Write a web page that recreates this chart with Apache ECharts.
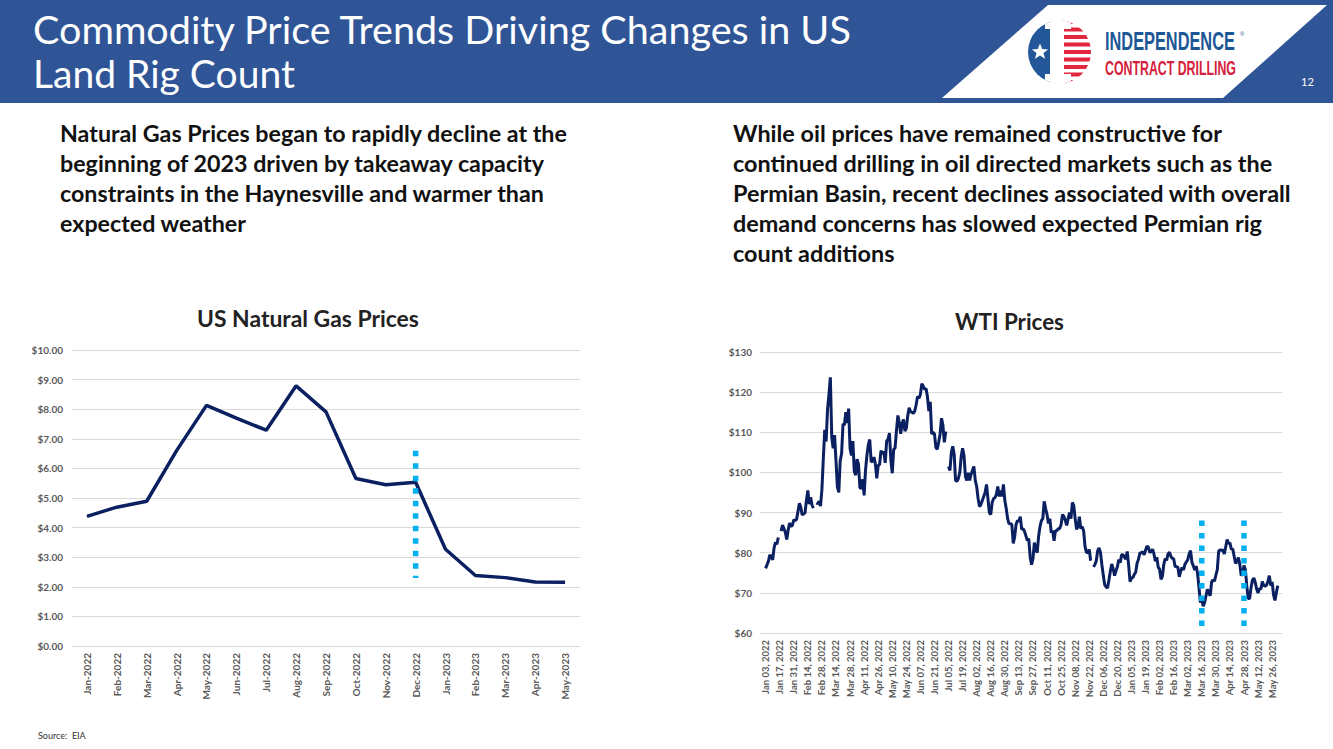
<!DOCTYPE html>
<html>
<head>
<meta charset="utf-8">
<script src="https://cdn.jsdelivr.net/npm/echarts@6/dist/echarts.min.js"></script>
<style>
  html, body { margin:0; padding:0; background:#fff; width:1333px; height:749px; overflow:hidden; }
  #chart { position:absolute; left:0; top:0; width:1333px; height:749px; }
  .txt { position:absolute; font-family: Lato, "Noto Sans", sans-serif; white-space:nowrap; }
  .ln { display:inline-block; white-space:nowrap; }
  #header { position:absolute; left:0; top:0; width:1333px; height:103px; background:#2F5597; }
</style>
</head>
<body>
<div id="chart"></div>
<div id="header">
  <svg width="1333" height="103" xmlns="http://www.w3.org/2000/svg" style="position:absolute;left:0;top:0">
    <defs>
      <clipPath id="cc"><circle cx="1059.5" cy="52" r="31.5"/></clipPath>
    </defs>
    <polygon points="942,98 1048,5 1327,5 1223,98" fill="#ffffff"/>
    <g clip-path="url(#cc)">
      <rect x="1026" y="18" width="26" height="70" fill="#24569a"/>
      <rect x="1052" y="18" width="42" height="70" fill="#ffffff"/>
      <rect x="1062" y="20" width="32" height="4" fill="#e2263f"/>
      <rect x="1062" y="27.5" width="32" height="4" fill="#e2263f"/>
      <rect x="1062" y="35" width="32" height="4" fill="#e2263f"/>
      <rect x="1062" y="42.5" width="32" height="4" fill="#e2263f"/>
      <rect x="1062" y="50" width="32" height="4" fill="#e2263f"/>
      <rect x="1062" y="57.5" width="32" height="4" fill="#e2263f"/>
      <rect x="1062" y="65" width="32" height="4" fill="#e2263f"/>
      <rect x="1062" y="72.5" width="32" height="4" fill="#e2263f"/>
      <rect x="1062" y="80" width="32" height="4" fill="#e2263f"/>
      <rect x="1045" y="18" width="26" height="11" fill="#ffffff"/>
      <rect x="1045" y="74" width="26" height="12" fill="#ffffff"/>
      <rect x="1050" y="18" width="14" height="70" fill="#ffffff"/>
    </g>
    <polygon points="1040,43.5 1042.2,49.1 1048.1,49.4 1043.5,53.1 1045.1,58.8 1040,55.5 1034.9,58.8 1036.5,53.1 1031.9,49.4 1037.8,49.1" fill="#ffffff"/>
    <text id="lg1" x="0" y="0" font-family="'Liberation Sans Narrow', 'Liberation Sans', sans-serif" font-weight="bold" font-size="25" fill="#1d5796">INDEPENDENCE</text>
    <text x="1240" y="36" font-family="'Liberation Sans', sans-serif" font-size="6" fill="#1d5796">®</text>
    <text id="lg2" x="0" y="0" font-family="'Liberation Sans Narrow', 'Liberation Sans', sans-serif" font-weight="bold" font-size="21" fill="#d5213c">CONTRACT DRILLING</text>
    <text x="1301" y="86" font-family="Lato, 'Noto Sans', sans-serif" font-size="11" fill="#ffffff">12</text>
  </svg>
</div>
<div id="title1" class="txt" style="left:33px; top:8px; line-height:42px; color:#fff; font-weight:400;"><span class="ln">Commodity Price Trends Driving Changes in US</span></div>
<div id="title2" class="txt" style="left:33px; top:52px; line-height:42px; color:#fff; font-weight:400;"><span class="ln">Land Rig Count</span></div>
<div id="pleft" class="txt" style="left:60px; top:118px; line-height:30px; color:#111; font-weight:bold;">
  <span class="ln">Natural Gas Prices began to rapidly decline at the</span><br>
  <span class="ln">beginning of 2023 driven by takeaway capacity</span><br>
  <span class="ln">constraints in the Haynesville and warmer than</span><br>
  <span class="ln">expected weather</span>
</div>
<div id="pright" class="txt" style="left:733px; top:118px; line-height:30px; color:#111; font-weight:bold;">
  <span class="ln">While oil prices have remained constructive for</span><br>
  <span class="ln">continued drilling in oil directed markets such as the</span><br>
  <span class="ln">Permian Basin, recent declines associated with overall</span><br>
  <span class="ln">demand concerns has slowed expected Permian rig</span><br>
  <span class="ln">count additions</span>
</div>
<div id="t1" class="txt" style="left:197px; top:305px; line-height:26px; color:#222; font-weight:bold;"><span class="ln">US Natural Gas Prices</span></div>
<div id="t2" class="txt" style="left:955px; top:309px; line-height:26px; color:#222; font-weight:bold;"><span class="ln">WTI Prices</span></div>
<div id="src" class="txt" style="left:38px; top:730px; font-size:9px; line-height:12px; color:#333;">Source:&nbsp;&nbsp;EIA</div>

<script>
// ---------------- DATA ----------------
const gasMonths = ['Jan-2022','Feb-2022','Mar-2022','Apr-2022','May-2022','Jun-2022','Jul-2022','Aug-2022','Sep-2022','Oct-2022','Nov-2022','Dec-2022','Jan-2023','Feb-2023','Mar-2023','Apr-2023','May-2023'];
const gasPrices = [4.38, 4.69, 4.89, 6.60, 8.13, 7.70, 7.29, 8.79, 7.91, 5.66, 5.45, 5.53, 3.27, 2.38, 2.31, 2.16, 2.15];
const gasMarker = { month: 'Dec-2022', top: 6.6, bottom: 2.3 };

const wtiTickLabels = ['Jan 03, 2022','Jan 17, 2022','Jan 31, 2022','Feb 14, 2022','Feb 28, 2022','Mar 14, 2022','Mar 28, 2022','Apr 11, 2022','Apr 26, 2022','May 10, 2022','May 24, 2022','Jun 07, 2022','Jun 21, 2022','Jul 05, 2022','Jul 19, 2022','Aug 02, 2022','Aug 16, 2022','Aug 30, 2022','Sep 13, 2022','Sep 27, 2022','Oct 11, 2022','Oct 25, 2022','Nov 08, 2022','Nov 22, 2022','Dec 06, 2022','Dec 20, 2022','Jan 05, 2023','Jan 19, 2023','Feb 02, 2023','Feb 16, 2023','Mar 02, 2023','Mar 16, 2023','Mar 30, 2023','Apr 14, 2023','Apr 28, 2023','May 12, 2023','May 26, 2023'];
// daily WTI spot price, one value per trading-day slot (null = no price)
const wtiPrices = [
  76.1, 77.0, 77.9, 79.5, 78.9, 78.2, 81.2, 82.6, 82.1, 83.8,
  null, 85.4, 86.9, 86.0, 85.1, 83.3, 85.6, 87.4, 86.6, 86.8,
  88.2, 88.0, 88.3, 90.3, 92.3, 91.3, 89.4, 89.7, 89.9, 93.1,
  95.5, 92.1, 93.8, 91.8, 91.1, null, 92.4, 92.2, 92.8, 91.6,
  95.7, 103.4, 110.6, 107.7, 115.7, 119.4, 123.7, 108.7, 106.0, 109.3,
  103.0, 96.4, 95.0, 102.9, 104.7, 112.1, 111.8, 115.0, 112.3, 115.9,
  106.0, 104.2, 107.8, 100.3, 99.3, 103.3, 102.0, 96.2, 96.0, 98.3,
  94.3, 100.6, 104.3, 106.9, 108.2, 102.6, 102.8, 103.8, 102.1, 98.5,
  101.7, 102.0, 105.4, 104.7, 105.2, 102.4, 107.8, 108.3, 109.8, 103.1,
  99.8, 105.7, 106.1, 110.5, 114.2, 112.4, 109.6, 112.2, 113.2, 110.3,
  111.0, 114.1, 116.1, 115.1, 115.0, 114.7, 115.3, 116.9, 118.9, 118.5,
  119.4, 122.1, 121.5, 120.7, 120.9, 118.9, 115.3, 117.6, 109.6, 110.0,
  109.6, 106.2, 105.8, 107.6, 109.6, 113.5, 111.8, 107.5, 110.2, null,
  101.5, 100.5, 105.0, 106.5, 104.5, 98.0, 97.8, 98.5, 100.0, 104.0,
  106.0, 104.2, 99.0, 98.0, 99.9, 98.0, 99.5, 100.5, 101.5, 98.0,
  96.5, 93.5, 91.5, 92.0, 93.0, 94.0, 95.0, 97.0, 93.5, 90.0,
  89.5, 92.5, 93.5, 93.7, 94.5, 96.5, 94.0, 95.5, 94.0, 97.0,
  93.0, 91.0, 88.5, 87.2, 87.3, 87.0, 82.3, 84.0, 87.0, 88.0,
  87.8, 89.0, 85.8, 86.0, 85.3, 84.2, 83.0, 83.5, 79.0, 77.0,
  78.5, 82.5, 81.0, 80.0, 84.0, 86.5, 88.0, 88.5, 92.8, 91.0,
  89.5, 87.3, 88.5, 85.0, 85.5, 83.0, 85.5, 85.5, 86.0, 86.0,
  87.0, 89.5, 89.0, 88.0, 86.8, 88.5, 90.0, 88.5, 92.5, 91.8,
  88.5, 85.8, 86.5, 89.0, 86.0, 86.5, 85.5, 81.6, 80.1, 80.0,
  80.8, 78.0, null, 76.5, 77.0, 78.0, 80.5, 81.2, 80.0, 77.0,
  74.3, 72.0, 71.5, 71.2, 73.2, 75.4, 77.2, 76.0, 74.3, 75.5,
  76.5, 78.3, 77.5, 79.5, 79.5, 78.9, 78.4, 80.3, 76.9, 72.8,
  73.7, 73.8, 74.6, 75.1, 77.4, 78.4, 79.9, 80.0, 80.2, 79.5,
  80.6, 81.6, 81.4, 80.1, 80.2, 80.9, 79.7, 77.9, 78.9, 76.4,
  75.9, 73.4, 74.1, 77.1, 78.5, 78.1, 79.7, 80.1, 79.1, 78.6,
  78.5, 76.6, 76.5, 76.4, 74.0, 75.4, 76.3, 75.7, 77.1, 77.7,
  78.2, 79.7, 80.5, 77.6, 76.7, 75.7, 76.7, 74.8, 71.3, 67.6,
  68.4, 66.7, 67.6, 69.3, 70.9, 69.9, 69.3, 72.8, 73.2, 72.9,
  74.4, 75.7, 80.4, 80.7, 80.6, 80.7, 79.7, 81.5, 83.3, 82.2,
  82.5, 80.8, 81.0, 79.1, 77.3, 77.9, 78.8, 77.1, 74.3, 74.8,
  76.8, 75.7, 71.6, 68.6, 68.6, 71.3, 73.2, 73.7, 72.6, 70.9,
  70.0, 71.1, 70.9, 72.8, 71.9, 71.6, 71.9, 72.9, 74.3, 71.8,
  72.7, 69.5, 68.1, 70.1, 71.8
];
const wtiTickStep = 10; // one tick label every 10 trading-day slots
const wtiMarkers = [ { label: 'Mar 16, 2023', top: 88, bottom: 60 }, { label: 'Apr 28, 2023', top: 88, bottom: 60 } ];

// ---------------- TEXT FITTING ----------------
function fitBlock(id, target) {
  const el = document.getElementById(id);
  el.style.fontSize = '20px';
  const spans = Array.from(el.querySelectorAll('.ln'));
  const w = Math.max.apply(null, spans.map(s => s.getBoundingClientRect().width));
  el.style.fontSize = (20 * target / w) + 'px';
}
function fitSvgText(id, x, y, target) {
  const t = document.getElementById(id);
  t.removeAttribute('transform');
  const w = t.getComputedTextLength();
  const s = w > 0 ? target / w : 1;
  t.setAttribute('transform', 'translate(' + x + ',' + y + ') scale(' + s + ',1)');
}
function fitAll() {
  fitBlock('title1', 818);
  fitBlock('title2', 262);
  fitBlock('pleft', 507);
  fitBlock('pright', 558);
  fitBlock('t1', 222);
  fitBlock('t2', 109);
  fitSvgText('lg1', 1105, 50, 130);
  fitSvgText('lg2', 1105, 75, 131);
}
fitAll();
if (document.fonts && document.fonts.ready) document.fonts.ready.then(fitAll);

// ---------------- CHART ----------------
const navy = '#0b2061';
const dotBlue = '#00B0F0';
const labelColor = '#595959';
const gridColor = '#D9D9D9';
const font = 'Lato, "Noto Sans", sans-serif';

const wtiTickValues = wtiTickLabels.map((_, i) => i * wtiTickStep);
const wtiSeriesData = wtiPrices.map((v, i) => [i, v == null ? '-' : v]);
const markerSeries = wtiMarkers.map(m => {
  const x = wtiTickLabels.indexOf(m.label) * wtiTickStep;
  return {
    type: 'line', xAxisIndex: 1, yAxisIndex: 1, symbol: 'none', silent: true, z: 5,
    data: [[x, m.top], [x, m.bottom]],
    lineStyle: { color: dotBlue, width: 5.5, type: [5.5, 7], cap: 'butt' }
  };
});

const chart = echarts.init(document.getElementById('chart'), null, { renderer: 'svg' });
chart.setOption({
  animation: false,
  textStyle: { fontFamily: font },
  grid: [
    { left: 72, top: 350, width: 508, height: 296 },
    { left: 760, top: 352, width: 522, height: 281 }
  ],
  xAxis: [
    {
      gridIndex: 0, type: 'category', data: gasMonths, boundaryGap: true,
      axisLine: { show: false }, axisTick: { show: false },
      axisLabel: { interval: 0, rotate: 90, color: labelColor, fontSize: 10, fontWeight: 'bold', fontFamily: font, margin: 7 }
    },
    {
      gridIndex: 1, type: 'value', min: -4, max: 367,
      axisLine: { show: false }, axisTick: { show: false }, splitLine: { show: false },
      axisLabel: {
        customValues: wtiTickValues, rotate: 90, color: labelColor, fontSize: 9.5, fontWeight: 'bold', fontFamily: font, margin: 7,
        formatter: v => wtiTickLabels[Math.round(v / wtiTickStep)] || ''
      }
    }
  ],
  yAxis: [
    {
      gridIndex: 0, type: 'value', min: 0, max: 10, interval: 1,
      axisLine: { show: false }, axisTick: { show: false },
      splitLine: { lineStyle: { color: gridColor, width: 1 } },
      axisLabel: { color: labelColor, fontSize: 10, fontWeight: 'bold', fontFamily: font, margin: 9, formatter: v => '$' + v.toFixed(2) }
    },
    {
      gridIndex: 1, type: 'value', min: 60, max: 130, interval: 10,
      axisLine: { show: false }, axisTick: { show: false },
      splitLine: { lineStyle: { color: gridColor, width: 1 } },
      axisLabel: { color: labelColor, fontSize: 10, fontWeight: 'bold', fontFamily: font, margin: 8, formatter: v => '$' + v }
    }
  ],
  series: [
    {
      type: 'line', xAxisIndex: 0, yAxisIndex: 0, data: gasPrices, symbol: 'none',
      lineStyle: { color: navy, width: 3.5 }, z: 3
    },
    {
      type: 'line', xAxisIndex: 0, yAxisIndex: 0, symbol: 'none', silent: true, z: 5,
      data: [[gasMarker.month, gasMarker.top], [gasMarker.month, gasMarker.bottom]],
      lineStyle: { color: dotBlue, width: 5.5, type: [5.5, 7], cap: 'butt' }
    },
    {
      type: 'line', xAxisIndex: 1, yAxisIndex: 1, data: wtiSeriesData, symbol: 'none',
      connectNulls: false, lineStyle: { color: navy, width: 3 }, z: 3
    }
  ].concat(markerSeries)
});
</script>
</body>
</html>
